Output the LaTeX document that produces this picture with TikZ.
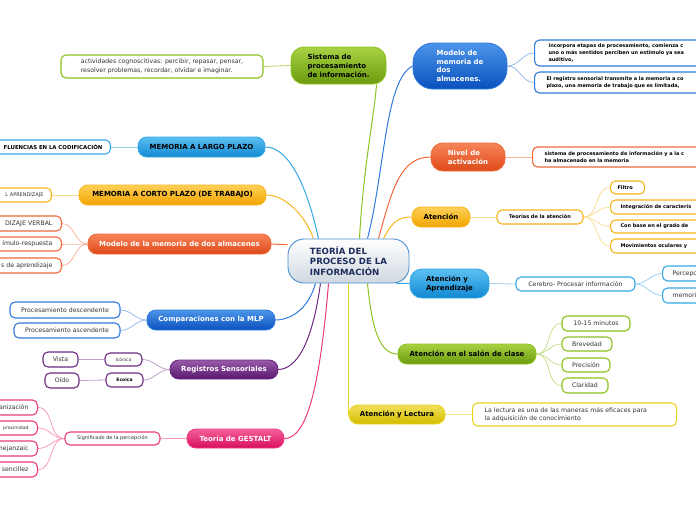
\documentclass[tikz,border=0pt]{standalone}
\usepackage{fontspec}
\setmainfont{DejaVu Sans}
\usetikzlibrary{backgrounds}
\definecolor{gT}{HTML}{A8D242}\definecolor{gB}{HTML}{6A9A0E}\definecolor{gD}{HTML}{8CC21E}
\definecolor{bT}{HTML}{4C95EA}\definecolor{bB}{HTML}{0A50BE}\definecolor{bD}{HTML}{2F7ADB}
\definecolor{rT}{HTML}{F8845A}\definecolor{rB}{HTML}{DD4A1A}\definecolor{rD}{HTML}{F0683A}
\definecolor{oT}{HTML}{FFD058}\definecolor{oB}{HTML}{F0A500}\definecolor{oD}{HTML}{F6B519}
\definecolor{cT}{HTML}{5CC0F2}\definecolor{cB}{HTML}{1089D2}\definecolor{cD}{HTML}{34A7E6}
\definecolor{yT}{HTML}{F0E05A}\definecolor{yB}{HTML}{D4BC00}\definecolor{yD}{HTML}{E8D41E}
\definecolor{pT}{HTML}{9A5AAA}\definecolor{pB}{HTML}{57186C}\definecolor{pD}{HTML}{6C2A82}
\definecolor{kT}{HTML}{F4609A}\definecolor{kB}{HTML}{D80E5C}\definecolor{kD}{HTML}{EE3A80}
\definecolor{navy}{HTML}{1F2D5C}\definecolor{txt}{HTML}{333333}
\definecolor{cenD}{HTML}{4A90D0}\definecolor{cenB}{HTML}{CFD8DF}
\begin{document}
\begin{tikzpicture}[x=1pt,y=-1pt,
  mainbox/.style={draw, line width=0.9pt, rounded corners=9pt, inner sep=0pt, align=center,
     font=\fontsize{7}{9}\selectfont\bfseries},
  gbox/.style={mainbox, top color=gT, bottom color=gB, draw=gD},
  bbox/.style={mainbox, top color=bT, bottom color=bB, draw=bD, text=white},
  rbox/.style={mainbox, top color=rT, bottom color=rB, draw=rD, text=white},
  obox/.style={mainbox, top color=oT, bottom color=oB, draw=oD},
  cybox/.style={mainbox, top color=cT, bottom color=cB, draw=cD},
  ybox/.style={mainbox, top color=yT, bottom color=yB, draw=yD},
  pbox/.style={mainbox, top color=pT, bottom color=pB, draw=pD, text=white},
  kbox/.style={mainbox, top color=kT, bottom color=kB, draw=kD, text=white},
  cbox/.style={draw=#1, fill=white, line width=1.1pt, rounded corners=5pt, inner sep=0pt, text=txt},
  fsix/.style={font=\fontsize{6.2}{8.5}\selectfont},
  ffiveb/.style={font=\fontsize{5}{7}\selectfont\bfseries, text=black},
  ffive/.style={font=\fontsize{5}{7}\selectfont},
  ffour/.style={font=\fontsize{4.5}{6}\selectfont},
  mline/.style={line width=1pt},
  sline/.style={line width=0.8pt}
]
\useasboundingbox (0,0) rectangle (696,520);
\clip (0,0) rectangle (696,520);

% central
\node[draw=cenD, line width=0.9pt, top color=white, bottom color=cenB, rounded corners=16pt,
  minimum width=121pt, minimum height=44pt, inner sep=0pt, align=left, text=navy,
  font=\fontsize{8.6}{10.8}\selectfont\bfseries] (central) at (348.5,261) {TEORÍA DEL\\PROCESO DE LA\\INFORMACIÓN};

% main nodes
\node[gbox, rounded corners=13pt, minimum width=95pt, minimum height=37pt, align=left] (sistema) at (338.5,65.5) {Sistema de\\procesamiento\\de información.};
\node[bbox, rounded corners=20pt, minimum width=94pt, minimum height=46pt, align=left, font=\fontsize{7}{8.7}\selectfont\bfseries] (modelo) at (460,66) {Modelo de\\memoria de\\dos\\almacenes.};
\node[rbox, rounded corners=12pt, minimum width=74pt, minimum height=28pt, align=left] (nivel) at (468,157) {Nivel de\\activación};
\node[obox, minimum width=58pt, minimum height=20pt] (atencion) at (441,217) {Atención};
\node[cybox, rounded corners=12pt, minimum width=79pt, minimum height=29pt, align=left] (aprend) at (449.5,283.5) {Atención y\\Aprendizaje};
\node[gbox, minimum width=138pt, minimum height=20pt] (salon) at (467,354) {Atención en el salón de clase};
\node[ybox, minimum width=96pt, minimum height=19pt] (lectura) at (397,414.5) {Atención y Lectura};
\node[cybox, minimum width=127pt, minimum height=20pt] (largo) at (201.5,147) {MEMORIA A LARGO PLAZO};
\node[obox, minimum width=187pt, minimum height=20pt] (corto) at (172.5,195) {MEMORIA A CORTO PLAZO (DE TRABAJO)};
\node[rbox, minimum width=183pt, minimum height=20pt] (modmem) at (179.5,244) {Modelo de la memoria de dos almacenes};
\node[bbox, minimum width=128pt, minimum height=20pt] (compar) at (211,320) {Comparaciones con la MLP};
\node[pbox, minimum width=108pt, minimum height=19pt] (registros) at (224,369.5) {Registros Sensoriales};
\node[kbox, minimum width=97pt, minimum height=19pt] (gestalt) at (235.5,438.5) {Teoría de GESTALT};

% children right side
\node[cbox=gD, fsix, minimum width=202pt, minimum height=23pt, align=left] (act) at (162,66.5) {actividades cognoscitivas: percibir, repasar, pensar,\\resolver problemas, recordar, olvidar e imaginar.};
\node[cbox=bD, ffiveb, anchor=west, text width=200pt, inner xsep=14pt, minimum height=26pt, align=left] (mod1) at (534,53) {incorpora etapas de procesamiento, comienza c\\uno o más sentidos perciben un estimulo ya sea\\auditivo,};
\node[cbox=bD, ffiveb, anchor=west, text width=200pt, inner xsep=12pt, minimum height=21pt, align=left] (mod2) at (534,82.5) {El registro sensorial transmite a la memoria a co\\plazo, una memoria de trabajo que es limitada,};
\node[cbox=rD, ffiveb, anchor=west, text width=200pt, inner xsep=12pt, minimum height=20pt, align=left] (niv1) at (532,157) {sistema de procesamiento de información y a la c\\ha almacenado en la memoria};
\node[cbox=oD, ffiveb, minimum width=86pt, minimum height=14pt] (teorias) at (540,217) {Teorías de la atención};
\node[cbox=oD, ffiveb, anchor=west, text width=20pt, inner xsep=7pt, minimum height=13pt, align=left] (filtro) at (610,187.5) {Filtro};
\node[cbox=oD, ffiveb, anchor=west, text width=200pt, inner xsep=10pt, minimum height=14pt, align=left] (integ) at (610,207) {Integración de caracterís};
\node[cbox=oD, ffiveb, anchor=west, text width=200pt, inner xsep=10pt, minimum height=13pt, align=left] (conbase) at (610,226.5) {Con base en el grado de};
\node[cbox=oD, ffiveb, anchor=west, text width=200pt, inner xsep=10pt, minimum height=14pt, align=left] (movim) at (610,246) {Movimientos oculares y};
\node[cbox=cD, fsix, minimum width=119pt, minimum height=14pt] (cerebro) at (575.5,284) {Cerebro- Procesar información};
\node[cbox=cD, fsix, anchor=west, text width=100pt, inner xsep=10pt, minimum height=15pt, align=left] (percep) at (662,273.5) {Percepc};
\node[cbox=cD, fsix, anchor=west, text width=100pt, inner xsep=10pt, minimum height=15pt, align=left] (memori) at (662,295.5) {memori};
\node[cbox=gD, fsix, minimum width=68pt, minimum height=15pt] (minutos) at (596,323.5) {10-15 minutos};
\node[cbox=gD, fsix, minimum width=50pt, minimum height=14pt] (brev) at (587,344) {Brevedad};
\node[cbox=gD, fsix, minimum width=48pt, minimum height=14pt] (prec) at (586,365) {Precisión};
\node[cbox=gD, fsix, minimum width=46pt, minimum height=15pt] (clar) at (585,385.5) {Claridad};
\node[cbox=yD, fsix, anchor=west, text width=180pt, inner xsep=12pt, minimum height=23pt, align=left] (lect1) at (472,414.5) {La lectura es una de las maneras más eficaces para\\la adquisición de conocimiento};

% children left side
\node[cbox=cD, font=\fontsize{5.4}{7}\selectfont\bfseries, text=black, anchor=east, text width=150pt, inner xsep=8pt, minimum height=14pt, align=right] (influ) at (111,147) {FLUENCIAS EN LA CODIFICACIÓN};
\node[cbox=oD, ffive, anchor=east, text width=100pt, inner xsep=8pt, minimum height=14pt, align=right] (apr) at (52,195) {L APRENDIZAJE};
\node[cbox=rD, fsix, anchor=east, text width=100pt, inner xsep=9pt, minimum height=15pt, align=right] (verbal) at (62,223.5) {DIZAJE VERBAL};
\node[cbox=rD, fsix, anchor=east, text width=100pt, inner xsep=9pt, minimum height=14pt, align=right] (estim) at (62,244) {ímulo-respuesta};
\node[cbox=rD, fsix, anchor=east, text width=100pt, inner xsep=9pt, minimum height=15pt, align=right] (tipos) at (62,265.5) {s de aprendizaje};
\node[cbox=bD, fsix, minimum width=110pt, minimum height=16pt] (desc) at (65,310) {Procesamiento descendente};
\node[cbox=bD, fsix, minimum width=106pt, minimum height=15pt] (asc) at (67,330.5) {Procesamiento ascendente};
\node[cbox=pD, ffour, minimum width=37pt, minimum height=13pt] (iconica) at (123.5,359.5) {Icónica};
\node[cbox=pD, ffour, font=\fontsize{4.5}{6}\selectfont\bfseries, text=black, minimum width=37pt, minimum height=14pt] (ecoica) at (124.5,380) {Ecoica};
\node[cbox=pD, fsix, minimum width=35pt, minimum height=15pt] (vista) at (60.5,359.5) {Vista};
\node[cbox=pD, fsix, minimum width=34pt, minimum height=15pt] (oido) at (62,380.5) {Oído};
\node[cbox=kD, ffive, minimum width=95pt, minimum height=13pt] (signif) at (112.5,438.5) {Significado de la percepción};
\node[cbox=kD, fsix, anchor=east, text width=100pt, inner xsep=9pt, minimum height=15pt, align=right] (g1) at (38,407.5) {anización};
\node[cbox=kD, ffour, anchor=east, text width=100pt, inner xsep=9pt, minimum height=14pt, align=right] (g2) at (38,428) {proximidad};
\node[cbox=kD, fsix, anchor=east, text width=100pt, inner xsep=9pt, minimum height=15pt, align=right] (g3) at (38,448.5) {mejanzaic};
\node[cbox=kD, fsix, anchor=east, text width=100pt, inner xsep=9pt, minimum height=15pt, align=right] (g4) at (38,469.5) {sencillez};

\begin{pgfonlayer}{background}
% main connectors
\draw[mline, gD] ([xshift=11pt]central.north) .. controls (363,170) and (375,110) .. ([xshift=38pt]sistema.south);
\draw[mline, bD] ([xshift=19pt]central.north) .. controls (385,170) and (385,80) .. (modelo.west);
\draw[mline, rD] ([xshift=30pt]central.north) .. controls (392,190) and (400,157) .. (nivel.west);
\draw[mline, oD] ([xshift=35pt]central.north) .. controls (392,222) and (398,217) .. (atencion.west);
\draw[mline, cD] ([xshift=-13pt]central.south east) -- (aprend.west);
\draw[mline, gD] ([xshift=19pt]central.south) .. controls (372,330) and (380,354) .. (salon.west);
\draw[mline, yD] (central.south) -- (central.south |- lectura.west);
\draw[mline, cD] ([xshift=-30pt]central.north) .. controls (308,190) and (290,147) .. (largo.east);
\draw[mline, oD] ([xshift=-35pt]central.north) .. controls (305,215) and (285,195) .. (corto.east);
\draw[mline, rD] (central.165) -- (modmem.east);
\draw[mline, bD] ([xshift=-33pt]central.south) .. controls (308,310) and (290,320) .. (compar.east);
\draw[mline, pD] ([xshift=-28pt]central.south) .. controls (312,345) and (296,369) .. (registros.east);
\draw[mline, kD] ([xshift=-20pt]central.south) .. controls (318,410) and (302,438) .. (gestalt.east);
% child connectors
\draw[sline, gD!70] (sistema.west) -- (act.east);
\draw[sline, bD!50] (modelo.east) to[out=0,in=180] (mod1.west);
\draw[sline, bD!50] (modelo.east) to[out=0,in=180] (mod2.west);
\draw[sline, rD!50] (nivel.east) -- (niv1.west);
\draw[sline, oD!50] (atencion.east) -- (teorias.west);
\foreach \c in {filtro,integ,conbase,movim}
  \draw[sline, oD!45] (teorias.east) to[out=0,in=180] (\c.west);
\draw[sline, cD!50] (aprend.east) -- (cerebro.west);
\foreach \c in {percep,memori}
  \draw[sline, cD!50] (cerebro.east) to[out=0,in=180] (\c.west);
\foreach \c in {minutos,brev,prec,clar}
  \draw[sline, gD!50] (salon.east) to[out=0,in=180] (\c.west);
\draw[sline, yD!50] (lectura.east) -- (lect1.west);
\draw[sline, cD!50] (largo.west) -- (influ.east);
\draw[sline, oD!50] (corto.west) -- (apr.east);
\foreach \c in {verbal,estim,tipos}
  \draw[sline, rD!50] (modmem.west) to[out=180,in=0] (\c.east);
\foreach \c in {desc,asc}
  \draw[sline, bD!50] (compar.west) to[out=180,in=0] (\c.east);
\foreach \c in {iconica,ecoica}
  \draw[sline, pD!45] (registros.west) to[out=180,in=0] (\c.east);
\draw[sline, pD!45] (iconica.west) -- (vista.east);
\draw[sline, pD!45] (ecoica.west) -- (oido.east);
\draw[sline, kD!50] (gestalt.west) -- (signif.east);
\foreach \c in {g1,g2,g3,g4}
  \draw[sline, kD!50] (signif.west) to[out=180,in=0] (\c.east);
\end{pgfonlayer}
\end{tikzpicture}
\end{document}
